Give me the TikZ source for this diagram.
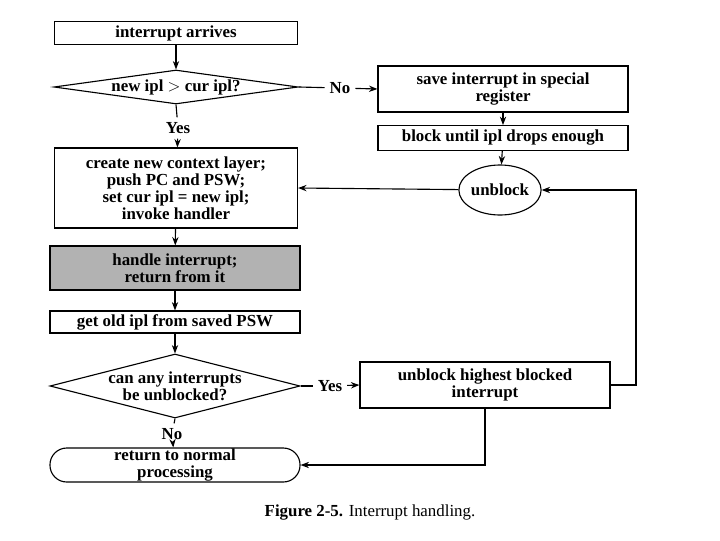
\documentclass[tikz,border=0pt]{standalone}
\usepackage{fontspec}
\setmainfont{Liberation Serif}
\usetikzlibrary{shapes.geometric,arrows.meta}
\begin{document}
\begin{tikzpicture}[x=0.025cm,y=-0.025cm,
  every node/.style={font=\fontsize{12}{12}\selectfont\bfseries,align=center},
  box/.style={draw,thick,inner sep=0pt},
  arr/.style={thick,-{Stealth[length=6pt]}},
  ln/.style={thick}]
\useasboundingbox (0,0) rectangle (720,540);
\node[box,minimum width=6.075cm,minimum height=0.575cm] (a) at (176,33) {interrupt arrives};
\node[box,diamond,aspect=7,minimum width=6.1cm,minimum height=0.85cm,inner sep=0pt] (d1) at (176,87) {new ipl $>$ cur ipl?};
\node (no1) at (340,88) {No};
\node[box,minimum width=6.25cm,minimum height=1.15cm] (s) at (503,89) {save interrupt in special\\register};
\node[box,minimum width=6.25cm,minimum height=0.62cm] (b) at (503,138) {block until ipl drops enough};
\node[box,ellipse,minimum width=1.85cm,minimum height=1.25cm,inner sep=0pt] (u) at (500,190) {unblock};
\node (y1) at (178,128) {Yes};
\node[box,minimum width=6.075cm,minimum height=2cm] (c) at (176,188) {create new context layer;\\push PC and PSW;\\set cur ipl = new ipl;\\invoke handler};
\node[box,fill=gray!60,minimum width=6.25cm,minimum height=1.1cm] (h) at (175,268) {handle interrupt;\\return from it};
\node[box,minimum width=6.25cm,minimum height=0.55cm] (g) at (175,322) {get old ipl from saved PSW};
\node[box,diamond,aspect=4,minimum width=6.25cm,minimum height=1.6cm,inner sep=0pt] (d2) at (175,386) {can any interrupts\\be unblocked?};
\node (y2) at (330,386) {Yes};
\node[box,minimum width=6.25cm,minimum height=1.15cm] (ub) at (485,385) {unblock highest blocked\\interrupt};
\node (n2) at (172,434) {No};
\node[box,rounded corners=0.42cm,minimum width=6.25cm,minimum height=0.85cm] (r) at (175,465) {return to normal\\processing};
\node (cap) at (370,512) {Figure 2-5. \normalfont Interrupt handling.};
\draw[arr] (a) -- (d1);
\draw[ln] (d1.east) -- (no1);
\draw[arr] (no1) -- (s.west);
\draw[arr] (s) -- (b);
\draw[arr] (b) -- (u);
\draw[ln] (d1.south) -- (y1);
\draw[arr] (y1) -- (c);
\draw[arr] (u) -- (c.east);
\draw[arr] (c) -- (h);
\draw[arr] (h) -- (g);
\draw[arr] (g) -- (d2);
\draw[ln] (d2.east) -- (y2);
\draw[arr] (y2) -- (ub.west);
\draw[arr] (ub.east) -- (636,385) |- (u.east);
\draw[ln] (d2.south) -- (n2);
\draw[arr] (n2) -- (r);
\draw[arr] (ub.south) |- (r.east);
\end{tikzpicture}
\end{document}
